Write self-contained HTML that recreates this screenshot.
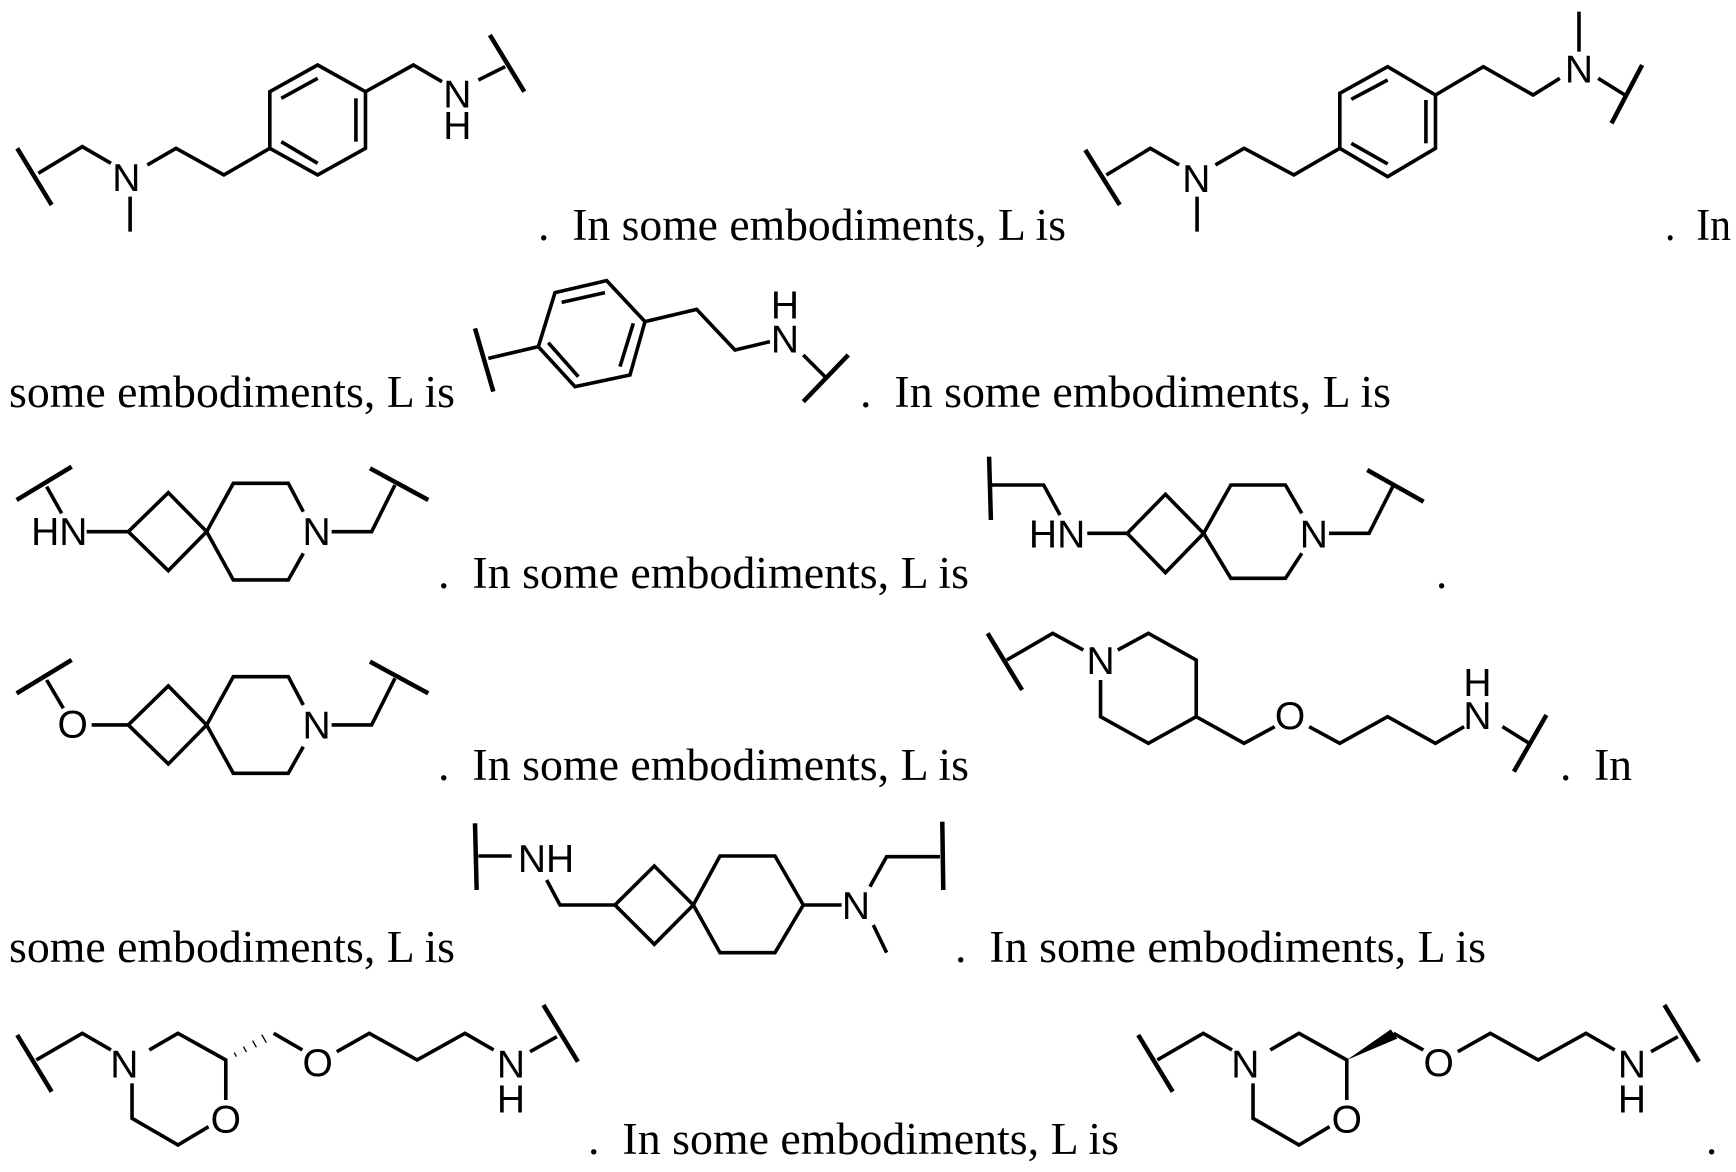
<!DOCTYPE html>
<html><head><meta charset="utf-8"><style>
html,body{margin:0;padding:0;background:#fff;}
svg{display:block}
.b{fill:none;stroke:#000;stroke-width:3.6;vector-effect:non-scaling-stroke;stroke-linejoin:miter;stroke-linecap:butt}
.w{fill:none;stroke:#000;stroke-width:4.5;vector-effect:non-scaling-stroke}
.l{font-family:"Liberation Sans",sans-serif;font-size:117px;text-anchor:middle;dominant-baseline:central}
.t{font-family:"Liberation Serif",serif;font-size:45px}
</style></head><body>
<svg width="1736" height="1172" viewBox="0 0 1736 1172" xmlns="http://www.w3.org/2000/svg">
<g class="t">
<text x="538" y="240" textLength="528" lengthAdjust="spacingAndGlyphs">.&#160;&#160;In some embodiments, L is</text>
<text x="1665" y="240" textLength="66" lengthAdjust="spacingAndGlyphs">.&#160;&#160;In</text>
<text x="9" y="407" textLength="446" lengthAdjust="spacingAndGlyphs">some embodiments, L is</text>
<text x="860" y="407" textLength="531" lengthAdjust="spacingAndGlyphs">.&#160;&#160;In some embodiments, L is</text>
<text x="438" y="588" textLength="531" lengthAdjust="spacingAndGlyphs">.&#160;&#160;In some embodiments, L is</text>
<text x="1436" y="588">.</text>
<text x="438" y="780" textLength="531" lengthAdjust="spacingAndGlyphs">.&#160;&#160;In some embodiments, L is</text>
<text x="1560" y="780" textLength="72" lengthAdjust="spacingAndGlyphs">.&#160;&#160;In</text>
<text x="9" y="962" textLength="446" lengthAdjust="spacingAndGlyphs">some embodiments, L is</text>
<text x="955" y="962" textLength="531" lengthAdjust="spacingAndGlyphs">.&#160;&#160;In some embodiments, L is</text>
<text x="588" y="1154" textLength="531" lengthAdjust="spacingAndGlyphs">.&#160;&#160;In some embodiments, L is</text>
<text x="1706" y="1154">.</text>
</g>

<g transform="translate(0,0) scale(0.3827,0.3333)">
<line class="w" x1="45" y1="445" x2="135" y2="615"/>
<polyline class="b" points="100,520 215,440 290,490"/>
<text class="l" transform="matrix(0.871,0,0,1,330,535)">N</text>
<line class="b" x1="340" y1="590" x2="340" y2="695"/>
<polyline class="b" points="385,495 460,445 585,525 705,445"/>
<polygon class="b" points="705,445 705,275 830,195 955,275 955,445 830,525"/>
<line class="b" x1="735" y1="295" x2="830" y2="235"/>
<line class="b" x1="930" y1="295" x2="930" y2="425"/>
<line class="b" x1="735" y1="425" x2="830" y2="490"/>
<polyline class="b" points="955,275 1080,195 1155,245"/>
<text class="l" transform="matrix(0.871,0,0,1,1195,285)">N</text>
<text class="l" transform="matrix(0.871,0,0,1,1195,380)">H</text>
<line class="b" x1="1250" y1="240" x2="1320" y2="200"/>
<line class="w" x1="1280" y1="105" x2="1370" y2="275"/>
</g>

<g transform="translate(1070,0) scale(0.3827,0.3333)">
<line class="w" x1="40" y1="450" x2="130" y2="615"/>
<polyline class="b" points="95,525 210,445 285,495"/>
<text class="l" transform="matrix(0.871,0,0,1,330,538)">N</text>
<line class="b" x1="332" y1="590" x2="332" y2="695"/>
<polyline class="b" points="380,495 455,445 585,525 705,445"/>
<polygon class="b" points="705,445 705,280 830,200 955,285 955,445 830,530"/>
<line class="b" x1="735" y1="298" x2="830" y2="240"/>
<line class="b" x1="930" y1="300" x2="930" y2="430"/>
<line class="b" x1="735" y1="430" x2="830" y2="492"/>
<polyline class="b" points="955,285 1080,200 1210,285 1280,235"/>
<text class="l" transform="matrix(0.871,0,0,1,1330,210)">N</text>
<line class="b" x1="1330" y1="155" x2="1330" y2="35"/>
<line class="b" x1="1380" y1="235" x2="1450" y2="285"/>
<line class="w" x1="1495" y1="195" x2="1415" y2="370"/>
</g>

<g transform="translate(460,270) scale(0.3333,0.3333)">
<line class="w" x1="45" y1="175" x2="100" y2="365"/>
<line class="b" x1="85" y1="265" x2="235" y2="230"/>
<polygon class="b" points="235,230 285,68 440,32 555,155 510,315 345,350"/>
<line class="b" x1="305" y1="97" x2="435" y2="68"/>
<line class="b" x1="520" y1="160" x2="480" y2="290"/>
<line class="b" x1="265" y1="218" x2="355" y2="320"/>
<polyline class="b" points="555,155 710,118 825,240 930,215"/>
<text class="l" x="975" y="210">N</text>
<text class="l" x="975" y="108">H</text>
<line class="b" x1="1030" y1="255" x2="1095" y2="320"/>
<line class="w" x1="1165" y1="255" x2="1030" y2="395"/>
</g>

<g transform="translate(0,450) scale(0.3333,0.3333)">
<line class="w" x1="50" y1="150" x2="215" y2="50"/>
<line class="b" x1="140" y1="110" x2="185" y2="190"/>
<text class="l" x="178" y="248">HN</text>
<line class="b" x1="260" y1="245" x2="385" y2="245"/>
<polygon class="b" points="385,245 505,128 620,245 505,362"/>
<polyline class="b" points="620,245 700,100 865,100 910,185"/>
<text class="l" x="950" y="248">N</text>
<polyline class="b" points="910,310 865,390 700,390 620,245"/>
<polyline class="b" points="995,245 1115,245 1185,105"/>
<line class="w" x1="1110" y1="55" x2="1285" y2="150"/>

<line class="w" x1="50" y1="730" x2="215" y2="630"/>
<line class="b" x1="140" y1="690" x2="190" y2="775"/>
<text class="l" x="218" y="825">O</text>
<line class="b" x1="275" y1="825" x2="385" y2="825"/>
<polygon class="b" points="385,825 505,708 620,825 505,942"/>
<polyline class="b" points="620,825 700,680 865,680 910,765"/>
<text class="l" x="950" y="828">N</text>
<polyline class="b" points="910,890 865,970 700,970 620,825"/>
<polyline class="b" points="995,825 1115,825 1185,685"/>
<line class="w" x1="1110" y1="635" x2="1285" y2="730"/>
</g>

<g transform="translate(980,450) scale(0.3636,0.3333)">
<line class="w" x1="25" y1="20" x2="30" y2="210"/>
<polyline class="b" points="30,105 175,105 220,195"/>
<text class="l" transform="matrix(0.917,0,0,1,212,255)">HN</text>
<line class="b" x1="295" y1="250" x2="405" y2="250"/>
<polygon class="b" points="405,250 510,133 615,250 510,368"/>
<polyline class="b" points="615,250 690,105 840,105 885,190"/>
<text class="l" transform="matrix(0.917,0,0,1,918,255)">N</text>
<polyline class="b" points="885,310 840,385 690,385 615,250"/>
<polyline class="b" points="960,250 1070,250 1135,110"/>
<line class="w" x1="1065" y1="60" x2="1220" y2="155"/>
</g>

<g transform="translate(980,620) scale(0.3827,0.3333)">
<line class="w" x1="20" y1="40" x2="110" y2="210"/>
<polyline class="b" points="70,120 190,40 270,90"/>
<text class="l" transform="matrix(0.871,0,0,1,315,125)">N</text>
<polyline class="b" points="360,90 440,40 565,120 565,290 440,370 315,290 315,180"/>
<polyline class="b" points="565,290 690,370 770,320"/>
<text class="l" transform="matrix(0.871,0,0,1,810,290)">O</text>
<polyline class="b" points="860,320 940,370 1065,290 1190,370 1265,320"/>
<text class="l" transform="matrix(0.871,0,0,1,1300,290)">N</text>
<text class="l" transform="matrix(0.871,0,0,1,1300,190)">H</text>
<line class="b" x1="1365" y1="320" x2="1435" y2="370"/>
<line class="w" x1="1480" y1="285" x2="1395" y2="455"/>
</g>

<g transform="translate(460,810) scale(0.3333,0.3333)">
<line class="w" x1="45" y1="40" x2="50" y2="240"/>
<line class="b" x1="55" y1="138" x2="155" y2="138"/>
<text class="l" x="258" y="148">NH</text>
<polyline class="b" points="260,210 300,285 465,285"/>
<polygon class="b" points="465,285 583,168 700,285 583,403"/>
<polygon class="b" points="700,285 780,138 945,138 1030,285 945,428 780,428"/>
<line class="b" x1="1030" y1="285" x2="1145" y2="285"/>
<text class="l" x="1188" y="290">N</text>
<polyline class="b" points="1230,230 1280,140 1440,140"/>
<line class="w" x1="1447" y1="35" x2="1450" y2="240"/>
<line class="b" x1="1240" y1="345" x2="1280" y2="428"/>
</g>

<g transform="translate(0,990) scale(0.3827,0.3333)">
<line class="w" x1="45" y1="135" x2="135" y2="305"/>
<polyline class="b" points="95,210 215,130 290,180"/>
<text class="l" transform="matrix(0.871,0,0,1,325,225)">N</text>
<polyline class="b" points="390,180 465,130 590,210 590,330"/>
<text class="l" transform="matrix(0.871,0,0,1,590,390)">O</text>
<polyline class="b" points="545,410 465,465 345,385 345,280"/>
<g class="b">
<line x1="612" y1="188" x2="618" y2="200"/>
<line x1="636" y1="170" x2="644" y2="186"/>
<line x1="660" y1="152" x2="670" y2="172"/>
<line x1="684" y1="134" x2="696" y2="158"/>
</g>
<polyline class="b" points="715,130 790,180"/>
<text class="l" transform="matrix(0.871,0,0,1,830,220)">O</text>
<polyline class="b" points="880,185 965,130 1090,210 1215,130 1290,180"/>
<text class="l" transform="matrix(0.871,0,0,1,1335,225)">N</text>
<text class="l" transform="matrix(0.871,0,0,1,1335,330)">H</text>
<line class="b" x1="1385" y1="185" x2="1455" y2="140"/>
<line class="w" x1="1420" y1="45" x2="1510" y2="215"/>
</g>

<g transform="translate(1121,990) scale(0.3827,0.3333)">
<line class="w" x1="45" y1="135" x2="135" y2="305"/>
<polyline class="b" points="95,210 215,130 290,180"/>
<text class="l" transform="matrix(0.871,0,0,1,325,225)">N</text>
<polyline class="b" points="390,180 465,130 590,210 590,330"/>
<text class="l" transform="matrix(0.871,0,0,1,590,390)">O</text>
<polyline class="b" points="545,410 465,465 345,385 345,280"/>
<polygon points="590,210 705,118 722,146" fill="#000"/>
<polyline class="b" points="712,130 790,180"/>
<text class="l" transform="matrix(0.871,0,0,1,830,220)">O</text>
<polyline class="b" points="880,185 965,130 1090,210 1215,130 1290,180"/>
<text class="l" transform="matrix(0.871,0,0,1,1335,225)">N</text>
<text class="l" transform="matrix(0.871,0,0,1,1335,330)">H</text>
<line class="b" x1="1385" y1="185" x2="1455" y2="140"/>
<line class="w" x1="1420" y1="45" x2="1510" y2="215"/>
</g>
</svg>
</body></html>
